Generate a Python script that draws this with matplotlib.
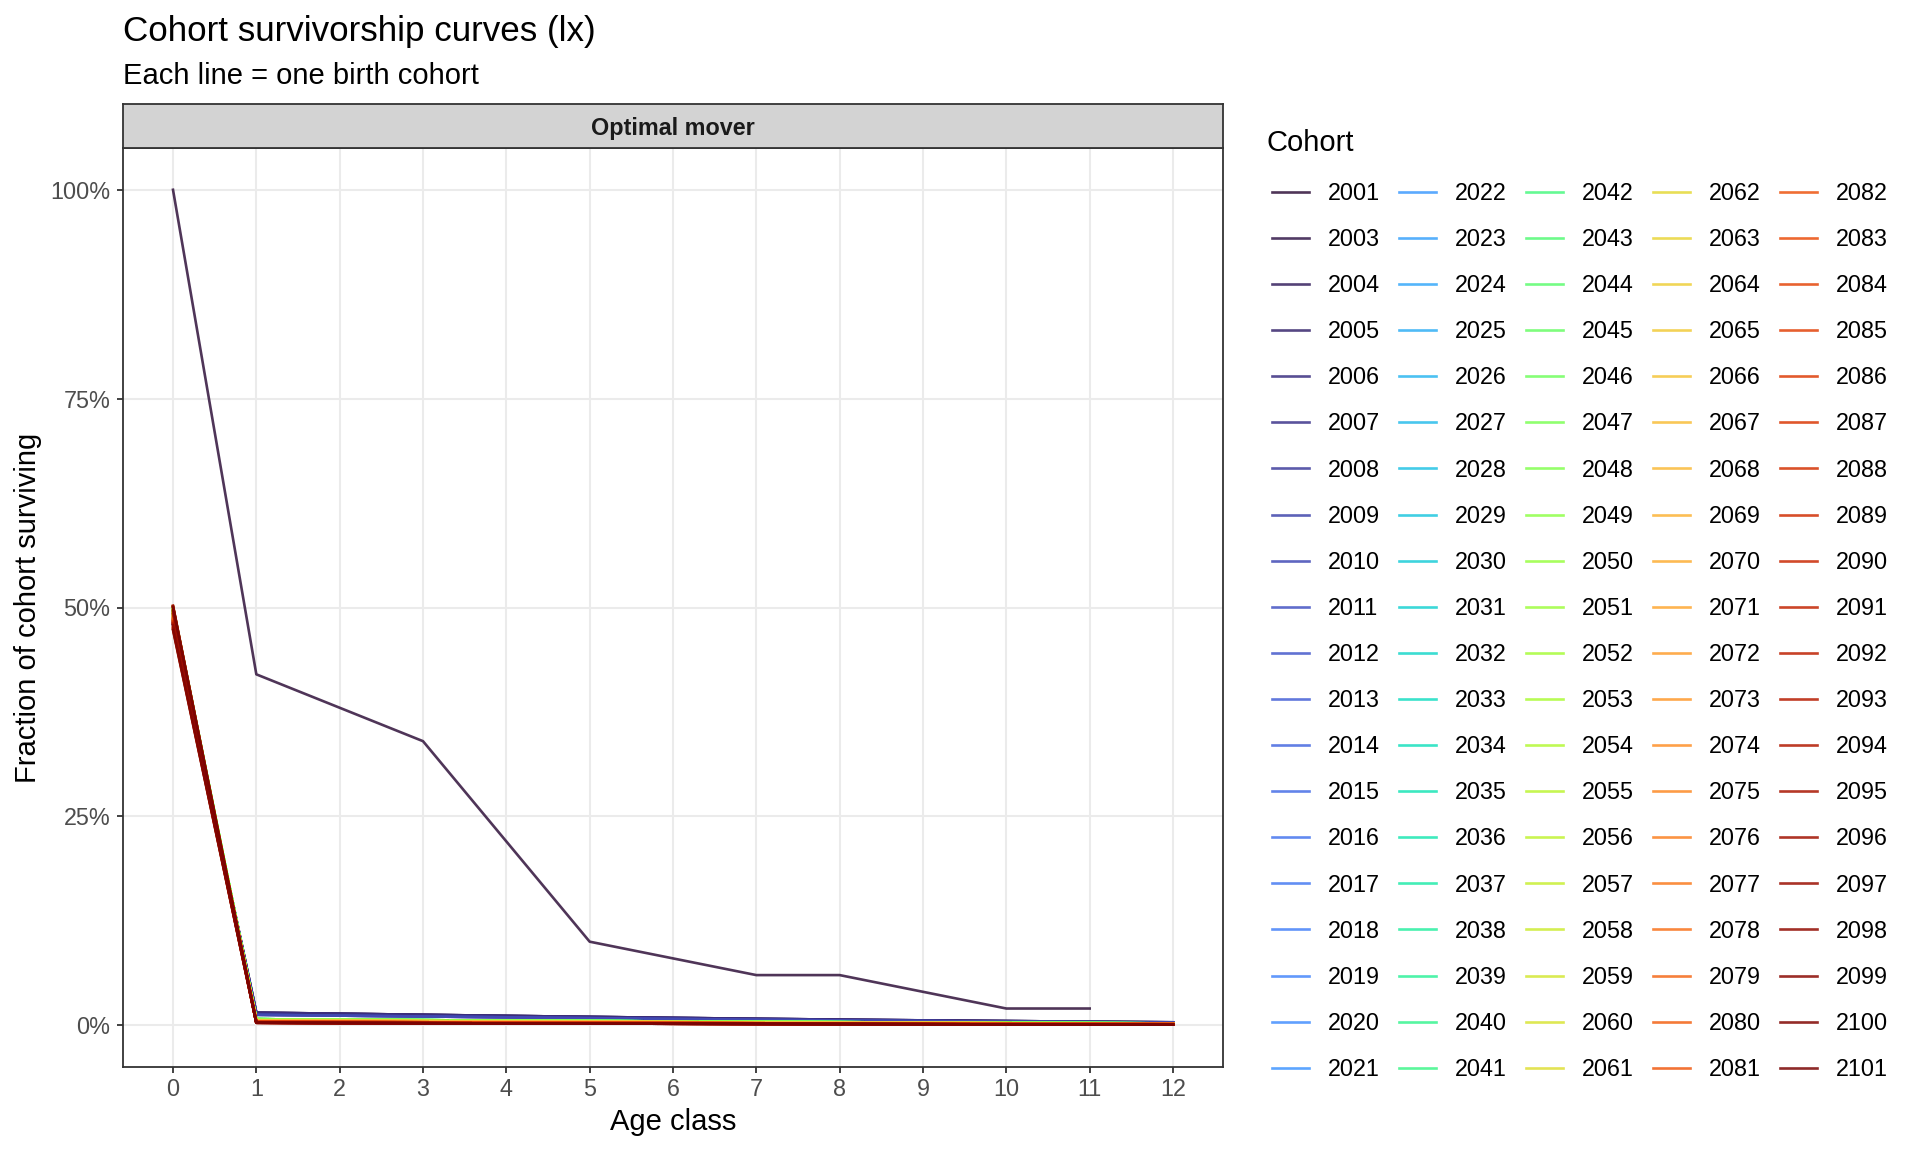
import bisect
import numpy as np
import matplotlib
matplotlib.use('Agg')
import matplotlib.pyplot as plt
from matplotlib.lines import Line2D
from matplotlib.ticker import PercentFormatter

plt.rcParams['font.family'] = ['Liberation Sans', 'DejaVu Sans']

# --- data (percent surviving) ---
ages = list(range(13))

first_cohort = 2001
first_cohort_pct = [100, 42, 38, 34, 22, 10, 8, 6, 6, 4, 2, 2]   # ages 0..11

later_cohorts = list(range(2003, 2102))

# age-0 value of every later cohort (2003..2101)
age0_pct = [
    48.0, 48.1, 47.9, 48.2, 48.0, 48.3, 48.1, 48.4, 48.2, 48.5,
    48.3, 48.6, 48.4, 48.7, 48.5, 48.8, 48.6, 48.9, 48.7, 49.0,
    48.8, 49.1, 48.9, 49.2, 49.0, 49.3, 49.1, 49.4, 49.2, 49.5,
    49.3, 49.6, 49.4, 49.7, 49.5, 49.8, 49.6, 49.9, 49.7, 50.0,
    49.8, 50.1, 49.9, 50.0, 49.7, 50.1, 49.8, 50.0, 49.6, 49.9,
    49.5, 49.8, 49.4, 49.7, 49.3, 49.6, 49.2, 49.5, 49.1, 49.4,
    49.0, 49.3, 48.9, 49.2, 48.8, 49.1, 48.7, 49.0, 48.6, 48.9,
    48.5, 48.8, 48.4, 48.7, 48.3, 48.6, 48.2, 48.5, 48.1, 48.4,
    50.1, 47.6, 49.7, 48.0, 50.2, 47.4, 49.4, 48.3, 50.0, 47.7,
    49.2, 48.1, 50.1, 47.5, 49.6, 47.9, 50.2, 47.3, 50.0,
]

# ages 1..12, shared by cohorts that overlap at this resolution
group_first_year = [2003, 2007, 2011, 2033, 2051, 2069, 2087]
group_tail_pct = [
    [1.50, 1.38, 1.25, 1.12, 1.00, 0.88, 0.77, 0.67, 0.58, 0.50, 0.42, 0.35],
    [1.25, 1.15, 1.05, 0.95, 0.85, 0.75, 0.66, 0.58, 0.50, 0.43, 0.37, 0.31],
    [0.60, 0.55, 0.50, 0.46, 0.42, 0.38, 0.34, 0.31, 0.28, 0.25, 0.22, 0.20],
    [0.72, 0.66, 0.60, 0.55, 0.50, 0.45, 0.40, 0.36, 0.32, 0.28, 0.25, 0.22],
    [0.58, 0.53, 0.48, 0.44, 0.40, 0.36, 0.32, 0.29, 0.26, 0.23, 0.20, 0.18],
    [0.42, 0.38, 0.35, 0.32, 0.29, 0.26, 0.23, 0.21, 0.19, 0.17, 0.15, 0.13],
    [0.30, 0.27, 0.24, 0.22, 0.20, 0.18, 0.16, 0.14, 0.12, 0.10, 0.09, 0.08],
]

x_ticks = list(range(13))
y_ticks = [0, 0.25, 0.5, 0.75, 1.0]


def main():
    W, H = 1920, 1152
    fig = plt.figure(figsize=(W / 100, H / 100), dpi=100)

    px_l, px_r, px_top, px_bot = 123, 1223, 148, 1067
    ax = fig.add_axes([px_l / W, 1 - px_bot / H, (px_r - px_l) / W, (px_bot - px_top) / H])

    cohorts = [first_cohort] + later_cohorts
    colors = plt.cm.turbo(np.linspace(0, 1, len(cohorts)))
    lw, alpha = 1.9, 0.85

    handles = []
    ax.plot(ages[:len(first_cohort_pct)], np.array(first_cohort_pct) / 100,
            color=colors[0], lw=lw, alpha=alpha, zorder=3)
    handles.append(Line2D([], [], color=colors[0], lw=lw, alpha=alpha))
    for i, year in enumerate(later_cohorts):
        g = bisect.bisect_right(group_first_year, year) - 1
        series = np.array([age0_pct[i]] + group_tail_pct[g]) / 100
        ax.plot(ages, series, color=colors[i + 1], lw=lw, alpha=alpha, zorder=3)
        handles.append(Line2D([], [], color=colors[i + 1], lw=lw, alpha=alpha))

    ax.set_xlim(-0.6, 12.6)
    ax.set_ylim(-0.05, 1.05)
    ax.set_xticks(x_ticks)
    ax.set_yticks(y_ticks)
    ax.yaxis.set_major_formatter(PercentFormatter(xmax=1, decimals=0))
    ax.grid(True, color='#ebebeb', lw=1.5, zorder=0)
    ax.set_axisbelow(True)
    for s in ax.spines.values():
        s.set_color('#333333')
        s.set_linewidth(1.3)
    ax.tick_params(length=4, width=1.3, color='#333333', labelcolor='#4d4d4d',
                   labelsize=16.8)
    ax.tick_params(axis='x', pad=4)
    ax.tick_params(axis='y', pad=5)
    ax.set_xlabel('Age class', fontsize=21, labelpad=5)
    ax.set_ylabel('Fraction of cohort surviving', fontsize=21, labelpad=6)

    # facet strip
    sax = fig.add_axes([px_l / W, 1 - px_top / H, (px_r - px_l) / W, 44 / H])
    sax.set_facecolor('#d3d3d3')
    sax.set_xticks([])
    sax.set_yticks([])
    for s in sax.spines.values():
        s.set_color('#333333')
        s.set_linewidth(1.3)
    sax.text(0.5, 0.45, 'Optimal mover', ha='center', va='center',
             fontsize=16.8, fontweight='bold', color='#1a1a1a', transform=sax.transAxes)

    fig.text(px_l / W, 1 - 41 / H, 'Cohort survivorship curves (lx)',
             fontsize=25.2, va='baseline', ha='left')
    fig.text(px_l / W, 1 - 84 / H, 'Each line = one birth cohort',
             fontsize=21, va='baseline', ha='left')

    # legend: title as its own text so the keys can sit slightly indented
    fig.text(1267 / W, 1 - 151 / H, 'Cohort', fontsize=21, va='baseline', ha='left')
    fig.legend(handles, [str(c) for c in cohorts], ncol=5,
               loc='upper left', bbox_to_anchor=(1272 / W, 1 - 182 / H),
               frameon=False, fontsize=16.8,
               handlelength=1.6, handletextpad=0.79, columnspacing=0.82,
               labelspacing=0.99, borderpad=0, borderaxespad=0)

    fig.savefig('out.png', dpi=100, facecolor='white')


if __name__ == '__main__':
    main()
